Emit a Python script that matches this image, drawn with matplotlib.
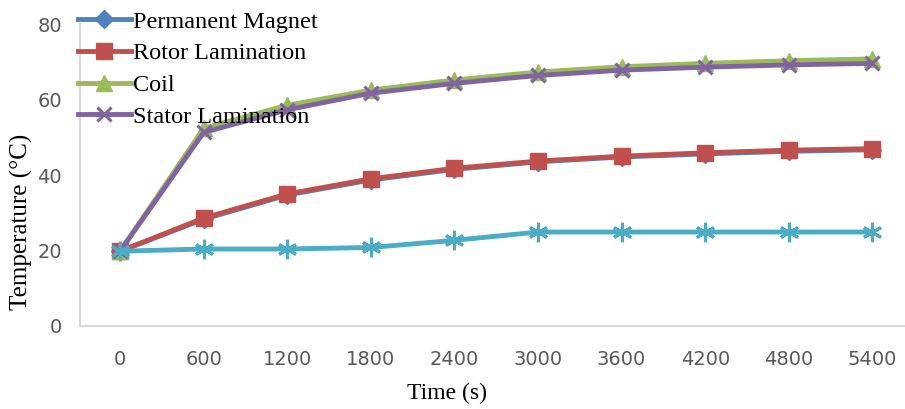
import matplotlib.pyplot as plt
import numpy as np

times = ['0', '600', '1200', '1800', '2400', '3000', '3600', '4200', '4800', '5400']
magnet = [19.8, 28.3, 34.7, 38.7, 41.5, 43.5, 44.8, 45.6, 46.3, 46.7]
rotor = [19.8, 28.6, 35.0, 39.0, 41.8, 43.7, 45.0, 45.9, 46.6, 47.0]
coil = [19.8, 52.4, 58.5, 62.5, 65.2, 67.3, 68.7, 69.6, 70.3, 70.8]
stator = [19.8, 51.3, 57.3, 61.7, 64.3, 66.4, 67.8, 68.6, 69.2, 69.6]
shaft = [19.8, 20.4, 20.4, 20.8, 22.7, 24.9, 24.9, 24.9, 24.9, 24.9]

plt.rcParams['font.family'] = ['Liberation Serif', 'DejaVu Serif']
tickfont = ['DejaVu Sans Condensed', 'Liberation Sans Narrow', 'DejaVu Sans']
fig = plt.figure(figsize=(9.05, 4.09), dpi=100)
ax = fig.add_axes([0.0884, 0.203, 0.9116, 0.738])
x = np.arange(len(times))
ax.plot(x, magnet, color='#4F81BD', lw=3.5, marker='D', ms=9, label='Permanent Magnet')
ax.plot(x, rotor, color='#C0504D', lw=3.5, marker='s', ms=12, label='Rotor Lamination')
ax.plot(x, coil, color='#9BBB59', lw=3.5, marker='^', ms=11, label='Coil')
ax.plot(x, stator, color='#8064A2', lw=3.5, marker='x', ms=10, mew=2.2, label='Stator Lamination')
ax.plot(x, shaft, color='#4BACC6', lw=3.5, marker=(6, 2, 0), ms=14, mew=2.2)

ax.set_xlim(-0.479, 9.39)
ax.set_ylim(0, 80)
ax.set_xticks(x)
ax.set_xticklabels(times, family=tickfont, fontsize=14, color='#595959')
ax.set_yticks([0, 20, 40, 60, 80])
ax.set_yticklabels(['0', '20', '40', '60', '80'], family=tickfont, fontsize=14, color='#595959')
ax.tick_params(length=0)
ax.tick_params(axis='y', pad=13)
ax.tick_params(axis='x', pad=17)
for s in ['top', 'right']:
    ax.spines[s].set_visible(False)
ax.spines['left'].set_color('#D9D9D9')
ax.spines['bottom'].set_color('#D9D9D9')
ax.spines['left'].set_linewidth(1.5)
ax.spines['bottom'].set_linewidth(1.5)
# axis titles placed like the original
fig.text(0.494, 0.037, 'Time (s)', fontsize=17, ha='center', va='center')
fig.text(0.024, 0.457, 'Temperature (°C)', fontsize=18, ha='center', va='center', rotation=90)
ax.legend(loc='upper left', bbox_to_anchor=(-0.003, 1.045), frameon=False, fontsize=17.5,
          handlelength=2.2, handletextpad=0.1, labelspacing=0.4, borderpad=0, borderaxespad=0)
plt.savefig('out.png', dpi=100)
